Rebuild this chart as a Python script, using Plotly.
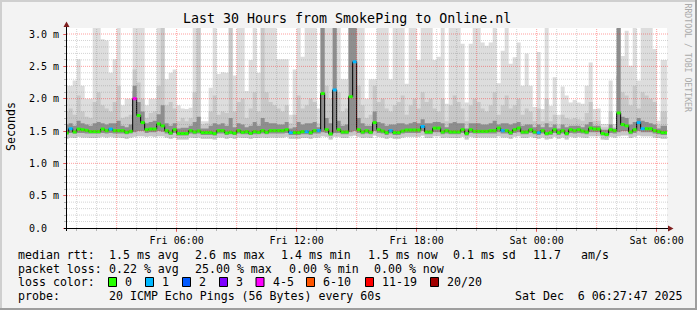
import plotly.graph_objects as go
from datetime import datetime, timedelta

# ---------------- data (12-minute consolidated steps) ----------------
STEP_START = datetime(2025, 12, 5, 0, 24)
STEP_MIN = 12

median = [1.47, 1.535, 1.485, 1.53, 1.52, 1.51, 1.49, 1.49, 1.49, 1.53,
          1.505, 1.53, 1.505, 1.505, 1.505, 1.48, 1.495, 2.0, 1.74, 1.63,
          1.52, 1.53, 1.53, 1.61, 1.58, 1.505, 1.47, 1.52, 1.46, 1.46,
          1.46, 1.505, 1.485, 1.50, 1.475, 1.475, 1.475, 1.46, 1.505, 1.505,
          1.47, 1.48, 1.465, 1.505, 1.48, 1.49, 1.465, 1.49, 1.48, 1.505,
          1.48, 1.505, 1.505, 1.505, 1.505, 1.52, 1.475, 1.475, 1.475, 1.49,
          1.49, 1.475, 1.505, 1.505, 2.08, 1.52, 1.455, 2.135, 1.52, 1.485,
          1.485, 2.03, 2.57, 1.52, 1.485, 1.505, 1.48, 1.63, 1.52, 1.50,
          1.475, 1.505, 1.475, 1.475, 1.50, 1.515, 1.515, 1.515, 1.515, 1.57,
          1.485, 1.485, 1.545, 1.545, 1.485, 1.505, 1.485, 1.485, 1.485, 1.52,
          1.46, 1.52, 1.495, 1.495, 1.495, 1.495, 1.505, 1.505, 1.545, 1.505,
          1.505, 1.475, 1.52, 1.545, 1.485, 1.485, 1.52, 1.485, 1.475, 1.505,
          1.46, 1.475, 1.52, 1.475, 1.505, 1.46, 1.52, 1.505, 1.52, 1.50,
          1.485, 1.545, 1.53, 1.53, 1.46, 1.445, 1.52, 1.505, 1.78, 1.60,
          1.58, 1.485, 1.52, 1.63, 1.535, 1.535, 1.535, 1.505, 1.49, 1.475, 1.475]

lost_pings = [0, 1, 0, 0, 0, 0, 0, 0, 0, 0,
              0, 1, 0, 0, 0, 0, 0, 5, 0, 0,
              0, 0, 0, 0, 0, 0, 0, 0, 0, 0,
              0, 0, 0, 0, 0, 0, 0, 0, 0, 0,
              0, 0, 0, 0, 0, 0, 0, 0, 0, 0,
              0, 0, 0, 0, 0, 0, 1, 0, 0, 0,
              1, 0, 0, 1, 0, 0, 0, 1, 0, 0,
              0, 0, 1, 0, 0, 0, 0, 0, 0, 0,
              0, 1, 0, 0, 0, 0, 0, 0, 0, 1,
              0, 0, 0, 0, 0, 0, 0, 0, 0, 0,
              0, 0, 0, 0, 0, 0, 0, 0, 0, 1,
              0, 0, 0, 0, 0, 0, 0, 0, 1, 0,
              0, 0, 0, 0, 0, 0, 0, 0, 0, 0,
              0, 0, 0, 0, 0, 0, 0, 0, 0, 0,
              0, 0, 0, 1, 1, 0, 0, 0, 0, 0, 0]

ping_max = [2.2, 2.2, 2.28, 2.61, 2.2, 2.0, 2.0, 3.3, 3.3, 2.92,
            2.9, 2.4, 2.61, 3.3, 1.9, 2.0, 2.0, 3.3, 3.3, 3.3,
            1.9, 2.0, 2.0, 3.3, 3.3, 2.3, 2.4, 2.45, 1.9, 1.85,
            1.84, 1.86, 3.3, 3.3, 1.65, 1.65, 2.17, 3.3, 2.38, 2.41,
            2.4, 3.3, 2.36, 3.3, 3.3, 2.12, 2.6, 3.3, 2.4, 3.3,
            3.3, 3.3, 3.3, 2.61, 2.61, 2.61, 1.75, 2.45, 3.3, 2.65,
            3.3, 3.3, 3.3, 1.85, 3.3, 3.3, 3.3, 3.3, 3.3, 2.3,
            2.3, 3.3, 3.3, 3.3, 3.3, 2.0, 2.3, 2.3, 3.3, 3.3,
            3.3, 2.3, 3.3, 3.3, 3.3, 2.23, 3.3, 3.3, 2.6, 3.3,
            3.3, 3.3, 2.6, 2.65, 3.3, 1.92, 3.3, 3.3, 3.3, 2.85,
            1.94, 2.85, 3.3, 3.3, 2.87, 2.82, 2.87, 3.3, 2.24, 2.74,
            3.3, 2.54, 2.64, 2.87, 2.2, 2.7, 2.2, 1.87, 2.72, 1.84,
            3.3, 1.89, 2.33, 1.75, 2.19, 2.05, 1.94, 1.98, 1.94, 1.92,
            2.2, 2.56, 1.84, 1.85, 1.61, 1.61, 2.28, 1.61, 3.3, 2.66,
            3.05, 2.51, 3.3, 2.28, 3.3, 3.3, 3.3, 2.77, 1.66, 2.6, 2.6]

ping_p85 = [1.80, 1.85, 1.75, 2.05, 1.80, 1.72, 1.70, 1.95, 2.10, 1.90,
            1.85, 1.80, 1.95, 2.20, 1.70, 1.72, 1.75, 2.45, 2.25, 2.00,
            1.70, 1.78, 1.80, 2.20, 3.30, 1.90, 1.95, 1.85, 1.65, 1.70,
            1.65, 1.70, 2.10, 3.30, 1.60, 1.62, 1.80, 2.05, 1.75, 1.80,
            1.78, 3.30, 1.80, 1.95, 2.00, 1.70, 1.85, 2.10, 1.80, 3.30,
            2.10, 1.95, 1.90, 1.85, 1.80, 1.90, 1.62, 1.75, 2.05, 1.85,
            1.90, 2.00, 1.95, 1.62, 3.30, 2.20, 2.00, 3.30, 2.10, 1.80,
            1.85, 3.30, 3.30, 2.20, 1.90, 1.70, 1.75, 2.20, 1.95, 2.00,
            1.85, 1.80, 1.90, 1.95, 2.05, 1.75, 1.90, 2.00, 1.85, 2.10,
            1.95, 2.00, 1.85, 1.80, 2.00, 1.65, 1.90, 2.05, 1.95, 1.85,
            1.65, 1.90, 2.00, 1.95, 1.85, 1.80, 1.90, 2.10, 1.75, 1.90,
            2.05, 1.85, 1.90, 2.00, 1.75, 1.85, 1.80, 1.65, 1.85, 1.65,
            2.00, 1.65, 1.75, 1.60, 1.75, 1.70, 1.68, 1.70, 1.68, 1.66,
            1.78, 1.95, 1.66, 1.66, 1.56, 1.56, 1.80, 1.56, 3.30, 2.10,
            2.05, 1.90, 2.20, 1.85, 2.10, 2.05, 2.00, 1.95, 1.60, 1.80, 1.80]

ping_p70 = [1.60, 1.62, 1.58, 1.66, 1.62, 1.60, 1.58, 1.62, 1.64, 1.62,
            1.60, 1.62, 1.62, 1.66, 1.58, 1.56, 1.60, 2.20, 1.95, 1.80,
            1.62, 1.64, 1.66, 1.76, 1.90, 1.62, 1.58, 1.62, 1.54, 1.55,
            1.55, 1.58, 1.64, 1.72, 1.54, 1.54, 1.58, 1.62, 1.60, 1.62,
            1.58, 1.70, 1.56, 1.62, 1.60, 1.56, 1.58, 1.64, 1.58, 1.70,
            1.64, 1.62, 1.62, 1.60, 1.60, 1.64, 1.54, 1.56, 1.64, 1.60,
            1.62, 1.62, 1.64, 1.56, 3.30, 1.70, 1.62, 3.30, 1.66, 1.58,
            1.60, 3.30, 3.30, 1.70, 1.62, 1.58, 1.58, 1.80, 1.64, 1.62,
            1.58, 1.60, 1.60, 1.62, 1.62, 1.60, 1.62, 1.64, 1.62, 1.68,
            1.62, 1.62, 1.64, 1.64, 1.62, 1.56, 1.62, 1.64, 1.62, 1.62,
            1.54, 1.62, 1.62, 1.62, 1.60, 1.60, 1.62, 1.66, 1.60, 1.62,
            1.62, 1.60, 1.62, 1.64, 1.58, 1.60, 1.60, 1.56, 1.60, 1.56,
            1.62, 1.56, 1.60, 1.54, 1.60, 1.56, 1.58, 1.58, 1.58, 1.56,
            1.60, 1.64, 1.58, 1.58, 1.52, 1.52, 1.60, 1.54, 3.30, 1.72,
            1.70, 1.60, 1.64, 1.70, 1.66, 1.64, 1.62, 1.60, 1.54, 1.58, 1.58]

ping_p30 = [1.45, 1.47, 1.46, 1.47, 1.47, 1.46, 1.46, 1.46, 1.46, 1.47,
            1.46, 1.47, 1.46, 1.46, 1.46, 1.45, 1.46, 1.48, 1.50, 1.50,
            1.47, 1.48, 1.48, 1.50, 1.49, 1.46, 1.44, 1.47, 1.43, 1.43,
            1.43, 1.46, 1.45, 1.46, 1.44, 1.44, 1.44, 1.43, 1.46, 1.46,
            1.44, 1.45, 1.44, 1.46, 1.45, 1.45, 1.44, 1.45, 1.45, 1.46,
            1.45, 1.46, 1.46, 1.46, 1.46, 1.47, 1.44, 1.44, 1.44, 1.45,
            1.45, 1.44, 1.46, 1.46, 1.48, 1.47, 1.43, 1.47, 1.47, 1.45,
            1.45, 1.48, 1.50, 1.47, 1.45, 1.46, 1.45, 1.50, 1.47, 1.46,
            1.44, 1.46, 1.44, 1.44, 1.46, 1.47, 1.47, 1.47, 1.47, 1.50,
            1.45, 1.45, 1.48, 1.48, 1.45, 1.46, 1.45, 1.45, 1.45, 1.47,
            1.43, 1.47, 1.46, 1.46, 1.46, 1.46, 1.46, 1.46, 1.48, 1.46,
            1.46, 1.44, 1.47, 1.48, 1.45, 1.45, 1.47, 1.45, 1.44, 1.46,
            1.43, 1.44, 1.47, 1.44, 1.46, 1.43, 1.47, 1.46, 1.47, 1.46,
            1.45, 1.48, 1.48, 1.48, 1.43, 1.42, 1.47, 1.46, 1.48, 1.50,
            1.50, 1.45, 1.47, 1.50, 1.48, 1.48, 1.48, 1.46, 1.45, 1.44, 1.44]

ping_min = [1.38, 1.40, 1.39, 1.41, 1.40, 1.40, 1.39, 1.39, 1.40, 1.41,
            1.40, 1.41, 1.40, 1.40, 1.39, 1.38, 1.40, 1.41, 1.42, 1.42,
            1.41, 1.42, 1.41, 1.42, 1.42, 1.40, 1.38, 1.40, 1.37, 1.37,
            1.37, 1.40, 1.39, 1.40, 1.38, 1.38, 1.38, 1.37, 1.40, 1.40,
            1.38, 1.39, 1.38, 1.40, 1.39, 1.39, 1.38, 1.39, 1.39, 1.40,
            1.39, 1.40, 1.40, 1.40, 1.40, 1.41, 1.38, 1.38, 1.38, 1.39,
            1.39, 1.38, 1.40, 1.40, 1.42, 1.41, 1.37, 1.41, 1.41, 1.39,
            1.39, 1.42, 1.43, 1.41, 1.39, 1.40, 1.39, 1.43, 1.41, 1.40,
            1.38, 1.40, 1.38, 1.38, 1.40, 1.41, 1.41, 1.41, 1.41, 1.43,
            1.39, 1.39, 1.42, 1.42, 1.39, 1.40, 1.39, 1.39, 1.39, 1.41,
            1.37, 1.41, 1.40, 1.40, 1.40, 1.40, 1.40, 1.40, 1.42, 1.40,
            1.40, 1.38, 1.41, 1.42, 1.39, 1.39, 1.41, 1.39, 1.38, 1.40,
            1.37, 1.38, 1.41, 1.38, 1.40, 1.37, 1.41, 1.40, 1.41, 1.40,
            1.39, 1.42, 1.42, 1.42, 1.37, 1.36, 1.41, 1.40, 1.42, 1.43,
            1.43, 1.39, 1.41, 1.43, 1.42, 1.42, 1.42, 1.40, 1.39, 1.38, 1.38]

# dense smoke core (central pings) for the steps where it spreads visibly
core_steps = [17, 18, 19, 23, 64, 67, 71, 72, 77, 138, 139, 143]
core_lo = [1.50, 1.54, 1.54, 1.52, 1.50, 1.48, 1.50, 1.52, 1.52, 1.50, 1.52, 1.52]
core_hi = [2.12, 1.82, 1.68, 1.66, 3.30, 3.30, 3.30, 3.30, 1.68, 2.35, 1.64, 1.66]

y_tick_vals = [0.0, 0.5, 1.0, 1.5, 2.0, 2.5, 3.0]
y_tick_text = ["0.0\u00a0\u00a0", "0.5 m", "1.0 m", "1.5 m", "2.0 m", "2.5 m", "3.0 m"]
x_tick_labels = {"2025-12-05 06:00": "Fri 06:00", "2025-12-05 12:00": "Fri 12:00",
                 "2025-12-05 18:00": "Fri 18:00", "2025-12-06 00:00": "Sat 00:00",
                 "2025-12-06 06:00": "Sat 06:00"}

loss_legend = [("0", "#26ff00"), ("1", "#00b8ff"), ("2", "#0059ff"), ("3", "#7e00ff"),
               ("4-5", "#ff00ff"), ("6-10", "#ff5500"), ("11-19", "#ff0000"), ("20/20", "#a10000")]

# ---------------- layout geometry (pixels) ----------------
W, H = 697, 310
PL, PR, PT, PB = 67, 667, 28, 228
X_START = datetime(2025, 12, 5, 0, 31)
X_END = datetime(2025, 12, 6, 6, 31)
Y_MAX = 3.093
MONO = "DejaVu Sans Mono"


def px(x):
    return (x - PL) / (PR - PL)


def py(y):
    return (PB - y) / (PB - PT)


n = len(median)
xs = [STEP_START + timedelta(minutes=STEP_MIN * i) for i in range(n + 1)]


def ext(a):
    return list(a) + [a[-1]]


fig = go.Figure()


def band(lo, hi, color):
    fig.add_trace(go.Scatter(x=xs, y=ext(lo), mode="lines", line=dict(width=0, shape="hv"),
                             hoverinfo="skip", showlegend=False))
    fig.add_trace(go.Scatter(x=xs, y=ext(hi), mode="lines", line=dict(width=0, shape="hv"),
                             fill="tonexty", fillcolor=color, hoverinfo="skip", showlegend=False))


band(ping_min, ping_max, "#dddddd")
band(ping_min, ping_p85, "#c8c8c8")
band(ping_p30, ping_p70, "#8e8e8e")

# dense core for spread-out steps
fig.add_trace(go.Bar(
    x=[xs[i] + timedelta(minutes=STEP_MIN / 2) for i in core_steps],
    y=[h - l for l, h in zip(core_lo, core_hi)], base=core_lo,
    width=STEP_MIN * 60 * 1000, marker=dict(color="#454545", line=dict(width=0)),
    hoverinfo="skip", showlegend=False))

# black step line of the median (vertical connectors)
fig.add_trace(go.Scatter(x=xs, y=ext(median), mode="lines", line=dict(width=1, shape="hv", color="#000000"),
                         hoverinfo="skip", showlegend=False))


def loss_color(l):
    if l == 0:
        return loss_legend[0][1]
    if l == 1:
        return loss_legend[1][1]
    if l == 2:
        return loss_legend[2][1]
    if l == 3:
        return loss_legend[3][1]
    if l <= 5:
        return loss_legend[4][1]
    if l <= 10:
        return loss_legend[5][1]
    if l <= 19:
        return loss_legend[6][1]
    return loss_legend[7][1]


segs = {}
for i in range(n):
    c = loss_color(lost_pings[i])
    sx, sy = segs.setdefault(c, ([], []))
    sx += [xs[i], xs[i + 1], None]
    sy += [median[i], median[i], None]
for c, (sx, sy) in segs.items():
    fig.add_trace(go.Scatter(x=sx, y=sy, mode="lines", line=dict(width=3, color=c),
                             hoverinfo="skip", showlegend=False))

shapes = []
# grid (drawn above the smoke like rrdtool)
MINOR = "rgba(120,120,120,0.32)"
MAJOR = "rgba(255,0,0,0.38)"
t = datetime(2025, 12, 5, 1, 0)
while t < X_END:
    shapes.append(dict(type="line", xref="x", yref="paper", x0=t, x1=t, y0=0, y1=1, layer="above",
                       line=dict(color=MAJOR if t.hour % 3 == 0 else MINOR, width=1, dash="1px,1px")))
    t += timedelta(hours=1)
for k in range(1, 31):
    v = k / 10
    shapes.append(dict(type="line", xref="paper", yref="y", x0=0, x1=1.002, y0=v, y1=v, layer="above",
                       line=dict(color=MAJOR if k % 5 == 0 else MINOR, width=1, dash="1px,1px")))

# axes with arrows
shapes.append(dict(type="line", xref="paper", yref="paper", x0=px(64), x1=px(669), y0=py(228.5), y1=py(228.5),
                   layer="above", line=dict(color="#000000", width=1)))
shapes.append(dict(type="line", xref="paper", yref="paper", x0=px(66.5), x1=px(66.5), y0=py(231), y1=py(26),
                   layer="above", line=dict(color="#000000", width=1)))
shapes.append(dict(type="path", xref="paper", yref="paper", layer="above",
                   path=f"M {px(668)} {py(225.5)} L {px(673.5)} {py(228.5)} L {px(668)} {py(231.5)} Z",
                   fillcolor="#7f1f1f", line=dict(width=0)))
shapes.append(dict(type="path", xref="paper", yref="paper", layer="above",
                   path=f"M {px(63.5)} {py(27)} L {px(66.5)} {py(21.5)} L {px(69.5)} {py(27)} Z",
                   fillcolor="#7f1f1f", line=dict(width=0)))

# frame
shapes.append(dict(type="rect", xref="paper", yref="paper", x0=px(0), x1=px(W), y0=py(0), y1=py(2),
                   fillcolor="#cfcfcf", line=dict(width=0), layer="below"))
shapes.append(dict(type="rect", xref="paper", yref="paper", x0=px(0), x1=px(2), y0=py(0), y1=py(H),
                   fillcolor="#cfcfcf", line=dict(width=0), layer="below"))
shapes.append(dict(type="rect", xref="paper", yref="paper", x0=px(0), x1=px(W), y0=py(H - 2), y1=py(H),
                   fillcolor="#9e9e9e", line=dict(width=0), layer="below"))
shapes.append(dict(type="rect", xref="paper", yref="paper", x0=px(W - 2), x1=px(W), y0=py(0), y1=py(H),
                   fillcolor="#9e9e9e", line=dict(width=0), layer="below"))

annotations = []


def text(x, y, s, size=11.6, anchor="left", color="#000000", angle=0):
    annotations.append(dict(x=px(x), y=py(y), xref="paper", yref="paper", text=s, showarrow=False,
                            xanchor=anchor, yanchor="middle", textangle=angle,
                            font=dict(family=MONO, size=size, color=color)))


text(347, 18.5, "Last 30 Hours from SmokePing to Online.nl", size=13.3, anchor="center")
text(11, 127, "Seconds", size=11.6, anchor="center", angle=-90)
text(687.5, 58, "RRDTOOL / TOBI OETIKER", size=8.2, anchor="center", color="#aaaaaa", angle=90)

L1, L2, L3, L4 = 254.5, 268.5, 282, 296
for x, s in [(16, "median rtt:"), (107, "1.5 ms avg"), (193, "2.6 ms max"), (279, "1.4 ms min"),
             (366, "1.5 ms now"), (451, "0.1 ms sd"), (530.5, "11.7"), (579, "am/s")]:
    text(x, L1, s)
for x, s in [(16, "packet loss:"), (107, "0.22 % avg"), (193, "25.00 % max"), (286.5, "0.00 % min"),
             (372, "0.00 % now")]:
    text(x, L2, s)
text(16, L3, "loss color:")
box_x = [108.5, 145.5, 182.5, 219.5, 256, 306.5, 365.5, 430.5]
for (lab, col), bx in zip(loss_legend, box_x):
    shapes.append(dict(type="rect", xref="paper", yref="paper", x0=px(bx), x1=px(bx + 8), y0=py(L3 - 4.5),
                       y1=py(L3 + 4.5), fillcolor=col, line=dict(color="#000000", width=1), layer="above"))
    text(bx + 14.5, L3, lab)
text(16, L4, "probe:")
text(107, L4, "20 ICMP Echo Pings (56 Bytes) every 60s")
text(513, L4, "Sat Dec\u00a0\u00a06 06:27:47 2025")

tick_vals = [datetime(2025, 12, 5, 3) + timedelta(hours=3 * i) for i in range(10)]
tick_text = [x_tick_labels.get(t.strftime("%Y-%m-%d %H:%M"), "") for t in tick_vals]
minor_vals = [datetime(2025, 12, 5, 1) + timedelta(hours=i) for i in range(30)]

fig.update_layout(
    width=W, height=H, margin=dict(l=PL, r=W - PR, t=PT, b=H - PB, pad=0),
    paper_bgcolor="#f3f3f3", plot_bgcolor="#ffffff",
    showlegend=False, shapes=shapes, annotations=annotations, barmode="overlay",
    font=dict(family=MONO, size=10, color="#000000"),
    xaxis=dict(type="date", range=[X_START, X_END], showgrid=False, zeroline=False, showline=False,
               tickmode="array", tickvals=tick_vals, ticktext=tick_text, ticks="outside", ticklen=3,
               tickcolor="rgba(255,0,0,0.5)", tickfont=dict(family=MONO, size=10, color="#000000"),
               minor=dict(tickmode="array", tickvals=minor_vals, ticks="outside", ticklen=2,
                          tickcolor="rgba(120,120,120,0.5)", showgrid=False),
               fixedrange=True),
    yaxis=dict(range=[0, Y_MAX], showgrid=False, zeroline=False, showline=False,
               tickmode="array", tickvals=y_tick_vals, ticktext=y_tick_text, ticks="outside", ticklen=3,
               tickcolor="rgba(255,0,0,0.5)", tickfont=dict(family=MONO, size=10, color="#000000"),
               ticklabelstandoff=2,
               minor=dict(tickmode="array", tickvals=[k / 10 for k in range(31)], ticks="outside", ticklen=2,
                          tickcolor="rgba(120,120,120,0.5)", showgrid=False),
               fixedrange=True),
)

fig.write_html("out.html")
